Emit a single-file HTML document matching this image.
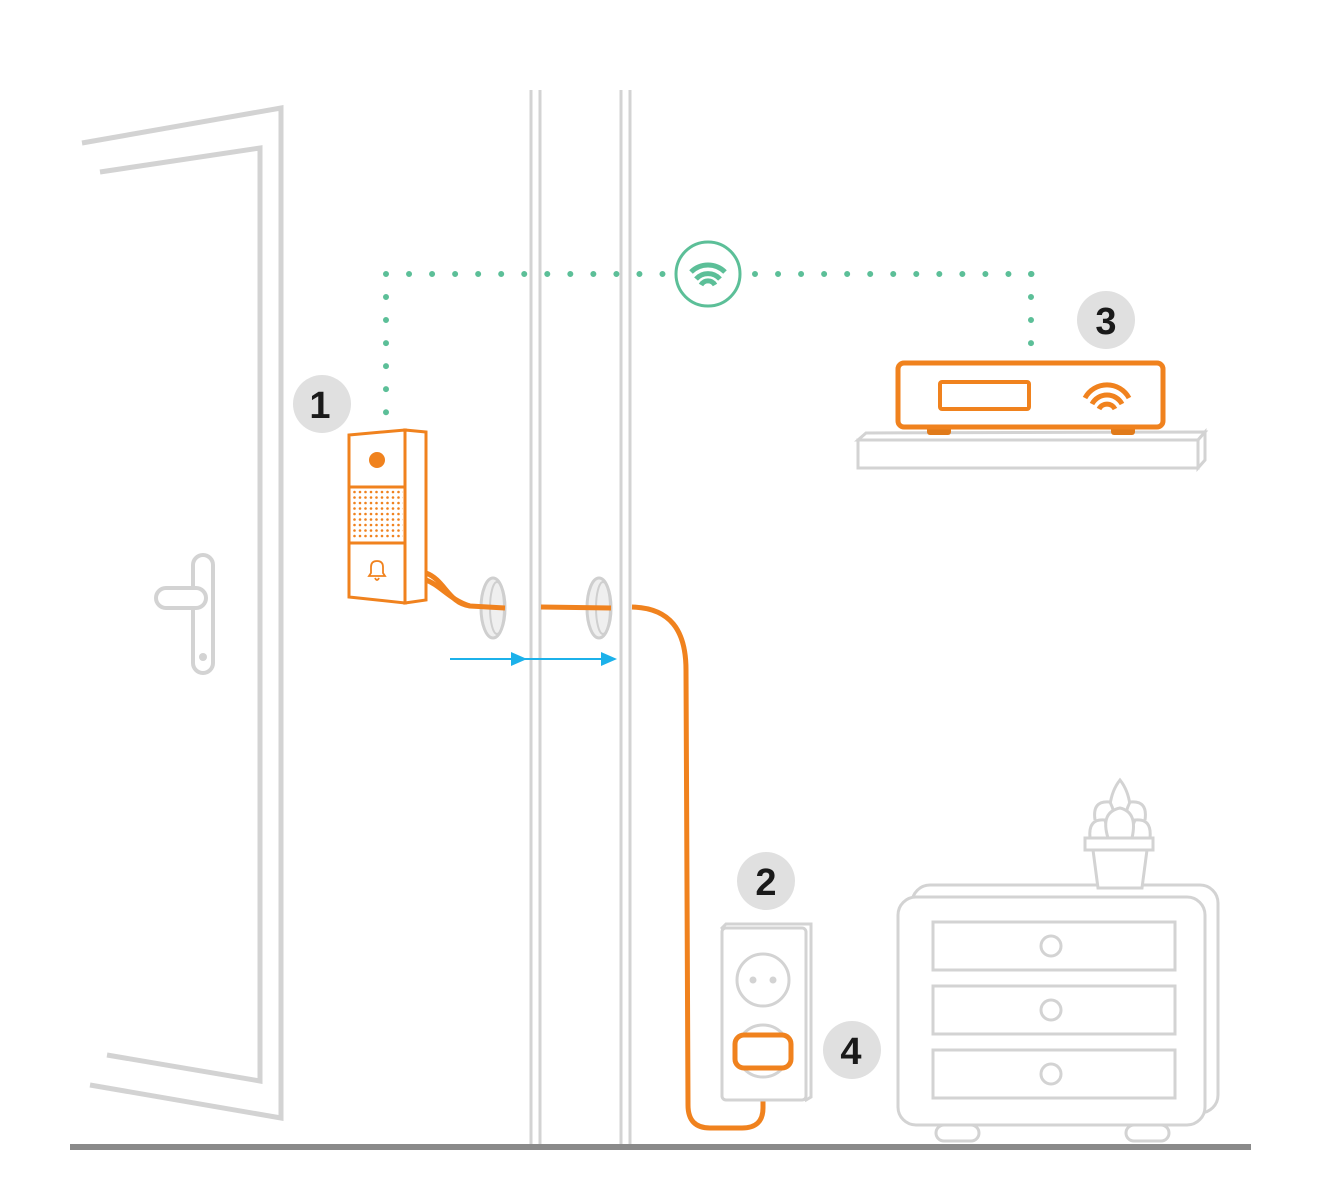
<!DOCTYPE html>
<html><head><meta charset="utf-8"><style>html,body{margin:0;padding:0;background:#fff}svg{display:block}</style></head>
<body>
<svg width="1320" height="1200" viewBox="0 0 1320 1200" xmlns="http://www.w3.org/2000/svg" font-family="Liberation Sans, sans-serif">
<g fill="none" stroke="#d3d3d3" stroke-width="5" stroke-linejoin="miter">
  <polyline points="82,143 281,108 281,1118 90,1085"/>
  <polyline points="100,172 260,148 260,1081 107,1055"/>
</g>
<g fill="#fff" stroke="#d3d3d3" stroke-width="4">
  <rect x="193" y="555" width="20" height="118" rx="10"/>
  <rect x="156" y="588" width="50" height="20" rx="10"/>
</g>
<circle cx="203" cy="657" r="4" fill="#d3d3d3"/>
<g stroke="#d3d3d3" stroke-width="3">
  <line x1="531" y1="90" x2="531" y2="1145"/><line x1="540" y1="90" x2="540" y2="1145"/>
  <line x1="621" y1="90" x2="621" y2="1145"/><line x1="630" y1="90" x2="630" y2="1145"/>
</g>
<line x1="70" y1="1147" x2="1251" y2="1147" stroke="#8a8a8a" stroke-width="6"/>
<g stroke="#5cbf98" stroke-width="6" stroke-linecap="round" stroke-dasharray="0 23.04">
  <line x1="386" y1="274" x2="675" y2="274"/>
  <line x1="755" y1="274" x2="1032" y2="274"/>
  <line x1="386" y1="297" x2="386" y2="415"/>
  <line x1="1031" y1="297" x2="1031" y2="348"/>
</g>
<circle cx="1031" cy="274" r="3" fill="#5cbf98"/>
<circle cx="708" cy="274" r="32" fill="#fff" stroke="#5cbf98" stroke-width="3"/>
<g fill="none" stroke="#5cbf98" stroke-width="5">
  <path d="M691,272 A24,24 0 0 1 725,272"/>
  <path d="M696,279 A16,16 0 0 1 720,279"/>
  <path d="M701,285 A8,8 0 0 1 715,285"/>
</g>
<g fill="#efefef" stroke="#cfcfcf" stroke-width="3">
  <ellipse cx="493" cy="608" rx="12" ry="30"/>
  <ellipse cx="599" cy="608" rx="12" ry="30"/>
</g>
<g fill="none" stroke="#cfcfcf" stroke-width="2"><ellipse cx="497" cy="608" rx="7" ry="26"/><ellipse cx="603" cy="608" rx="7" ry="26"/></g>
<g fill="none" stroke="#f0821e" stroke-width="5">
  <path d="M426,573 C445,580 448,603 470,606 L505,608"/>
  <path d="M426,580 C440,585 450,600 470,606"/>
  <line x1="541" y1="607" x2="611" y2="608"/>
  <path d="M632,607 C670,608 686,630 686,670 L688,1105 Q688,1128 710,1128 L742,1128 Q763,1128 763,1108 L763,1068"/>
</g>
<line x1="450" y1="659" x2="605" y2="659" stroke="#1cb1ea" stroke-width="2"/>
<polygon points="511,652 527,659 511,666" fill="#1cb1ea"/>
<polygon points="601,652 617,659 601,666" fill="#1cb1ea"/>
<g fill="#fff" stroke="#f0821e" stroke-width="3">
  <polygon points="349,435 405,430 405,603 349,597"/>
  <polygon points="405,430 426,432 426,600 405,603"/>
  <line x1="349" y1="487" x2="405" y2="487"/>
  <line x1="349" y1="543" x2="405" y2="543"/>
</g>
<circle cx="377" cy="460" r="8" fill="#f0821e"/>
<defs><pattern id="dots" width="5.5" height="5.5" patternUnits="userSpaceOnUse"><circle cx="2.5" cy="2.5" r="1.3" fill="#f0821e"/></pattern></defs>
<rect x="352" y="490" width="51" height="50" fill="url(#dots)"/>
<path d="M369,576 L371,573 L371,567 Q371,561 377,561 Q383,561 383,567 L383,573 L385,576 Z M375,578 Q377,582 379,578" fill="none" stroke="#f0821e" stroke-width="1.8"/>
<g fill="#fff" stroke="#d3d3d3" stroke-width="3">
  <polygon points="858,440 866,433 1205,432 1198,440"/>
  <rect x="858" y="440" width="340" height="28"/>
  <polygon points="1198,440 1205,432 1205,460 1198,468"/>
</g>
<rect x="927" y="424" width="24" height="11" rx="3" fill="#e07a1a"/>
<rect x="1111" y="424" width="24" height="11" rx="3" fill="#e07a1a"/>
<rect x="898" y="363" width="265" height="64" rx="6" fill="#fff" stroke="#f0821e" stroke-width="5"/>
<rect x="940" y="382" width="89" height="27" rx="2" fill="none" stroke="#f0821e" stroke-width="4"/>
<g fill="none" stroke="#f0821e" stroke-width="5">
  <path d="M1085,398 A25,25 0 0 1 1129,398"/>
  <path d="M1092,404 A17,17 0 0 1 1122,404"/>
  <path d="M1099,409 A9,9 0 0 1 1115,409"/>
</g>
<g fill="#fff" stroke="#d3d3d3" stroke-width="3">
  <path d="M722,928 L726,924 L811,924 L811,1097 L806,1100 Z"/>
  <rect x="722" y="928" width="84" height="172" rx="4"/>
  <circle cx="763" cy="980" r="26"/>
  <circle cx="763" cy="1051" r="26"/>
</g>
<circle cx="753" cy="980" r="3.5" fill="#d3d3d3"/><circle cx="773" cy="980" r="3.5" fill="#d3d3d3"/>
<rect x="735" y="1035" width="56" height="33" rx="9" fill="#fff" stroke="#f0821e" stroke-width="5"/>
<g fill="#fff" stroke="#d3d3d3" stroke-width="3">
  <rect x="912" y="885" width="306" height="228" rx="18"/>
  <rect x="898" y="897" width="307" height="228" rx="18"/>
  <rect x="936" y="1125" width="43" height="16" rx="8"/>
  <rect x="1126" y="1125" width="43" height="16" rx="8"/>
  <rect x="933" y="922" width="242" height="48"/>
  <rect x="933" y="986" width="242" height="48"/>
  <rect x="933" y="1050" width="242" height="48"/>
  <circle cx="1051" cy="946" r="10"/><circle cx="1051" cy="1010" r="10"/><circle cx="1051" cy="1074" r="10"/>
  <polygon points="1093,850 1147,850 1142,888 1098,888"/>
  <path d="M1110,805 Q1112,790 1120,780 Q1128,790 1130,805"/>
  <path d="M1095,820 Q1092,800 1110,802 Q1115,812 1115,822"/>
  <path d="M1145,820 Q1148,800 1130,802 Q1125,812 1125,822"/>
  <path d="M1090,838 Q1088,818 1105,820 Q1108,832 1110,838"/>
  <path d="M1150,838 Q1152,818 1135,820 Q1130,832 1128,838"/>
  <path d="M1108,838 Q1100,812 1120,808 Q1138,812 1132,838"/>
  <rect x="1085" y="838" width="68" height="12"/>
</g>
<g fill="#e0e0e0">
  <circle cx="322" cy="404" r="29"/><circle cx="1106" cy="320" r="29"/>
  <circle cx="766" cy="881" r="29"/><circle cx="852" cy="1050" r="29"/>
</g>
<g font-size="38" font-weight="bold" fill="#1a1a1a" text-anchor="middle">
  <text x="320" y="418">1</text><text x="1106" y="334">3</text>
  <text x="766" y="895">2</text><text x="851" y="1064">4</text>
</g>
</svg>
</body></html>
